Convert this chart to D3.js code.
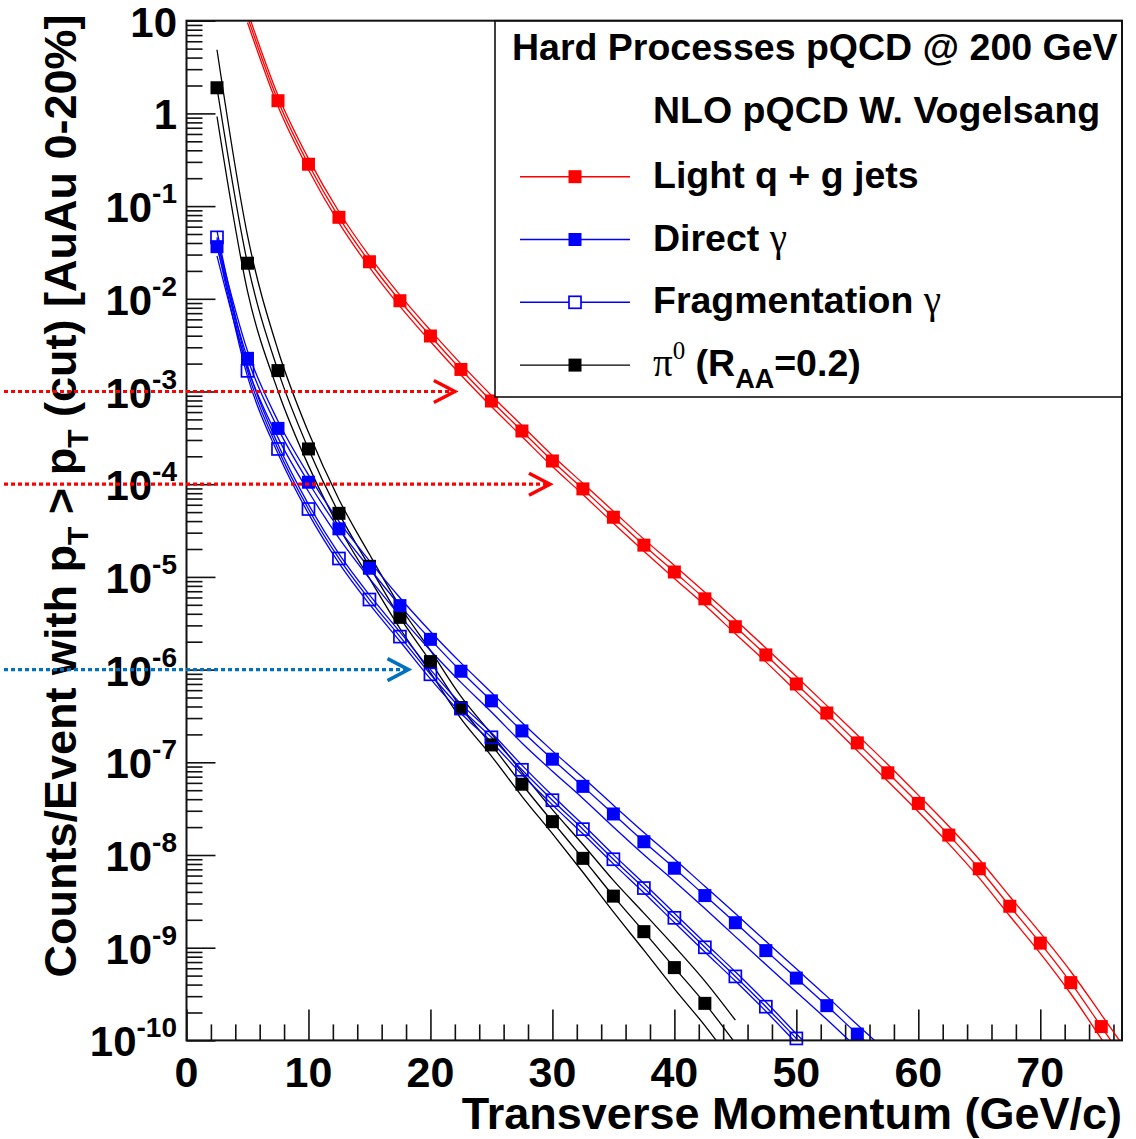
<!DOCTYPE html>
<html>
<head>
<meta charset="utf-8">
<script src="https://cdn.jsdelivr.net/npm/d3@7"></script>
<style>
  body { margin: 0; background: #fff; }
  svg { display: block; }
  text { font-family: "Liberation Sans", Arial, sans-serif; font-weight: bold; fill: #000; }
  .serif { font-family: "Liberation Serif", "Times New Roman", serif; font-weight: normal; }
</style>
</head>
<body>
<svg id="chart" width="1136" height="1139"></svg>
<script>
// ---- Yields per event with pT > pT(cut), AuAu 0-20%, NLO pQCD ----
// Light q + g jets
const jetPt = [5, 7.5, 10, 12.5, 15, 17.5, 20, 22.5, 25, 27.5, 30, 32.5, 35, 37.5, 40, 42.5, 45, 47.5, 50, 52.5, 55, 57.5, 60, 62.5, 65, 67.5, 70, 72.5, 75, 77.5];
const jetYield = [11, 1.37, 0.283, 0.0757, 0.0251, 0.00953, 0.00397, 1.73e-3, 7.9e-4, 3.75e-4, 1.78e-4, 8.9e-5, 4.4e-5, 2.2e-5, 1.13e-5, 5.8e-6, 2.9e-6, 1.44e-6, 7.0e-7, 3.4e-7, 1.62e-7, 7.7e-8, 3.6e-8, 1.64e-8, 7.1e-9, 2.8e-9, 1.12e-9, 4.2e-10, 1.41e-10, 4.7e-11];
// scale-uncertainty band half width, in decades
const jetSpread = [0.06, 0.06, 0.06, 0.06, 0.06, 0.06, 0.06, 0.06, 0.06, 0.06, 0.06, 0.06, 0.065, 0.065, 0.07, 0.07, 0.075, 0.075, 0.08, 0.08, 0.085, 0.09, 0.09, 0.095, 0.1, 0.105, 0.11, 0.12, 0.13, 0.14];

// Direct photons
const dirPt = [2.5, 5, 7.5, 10, 12.5, 15, 17.5, 20, 22.5, 25, 27.5, 30, 32.5, 35, 37.5, 40, 42.5, 45, 47.5, 50, 52.5, 55, 57.5];
const dirYield = [0.0365, 2.28e-3, 4.0e-4, 1.05e-4, 3.3e-5, 1.24e-5, 4.9e-6, 2.12e-6, 9.6e-7, 4.6e-7, 2.18e-7, 1.08e-7, 5.5e-8, 2.77e-8, 1.39e-8, 7.2e-9, 3.65e-9, 1.86e-9, 9.3e-10, 4.7e-10, 2.37e-10, 1.17e-10, 5.9e-11];
const dirSpreadUp = [0.08, 0.08, 0.08, 0.08, 0.08, 0.08, 0.085, 0.085, 0.09, 0.09, 0.09, 0.09, 0.095, 0.095, 0.1, 0.1, 0.1, 0.1, 0.1, 0.1, 0.1, 0.1, 0.1];
const dirSpreadDn = [0.1, 0.1, 0.1, 0.1, 0.1, 0.11, 0.11, 0.12, 0.12, 0.12, 0.13, 0.13, 0.13, 0.14, 0.14, 0.14, 0.14, 0.15, 0.15, 0.15, 0.15, 0.15, 0.15];

// Fragmentation photons
const fragPt = [2.5, 5, 7.5, 10, 12.5, 15, 17.5, 20, 22.5, 25, 27.5, 30, 32.5, 35, 37.5, 40, 42.5, 45, 47.5, 50, 52.5];
const fragYield = [0.046, 1.67e-3, 2.4e-4, 5.4e-5, 1.58e-5, 5.7e-6, 2.27e-6, 8.9e-7, 3.8e-7, 1.86e-7, 8.3e-8, 3.9e-8, 1.9e-8, 9.0e-9, 4.4e-9, 2.1e-9, 1.01e-9, 4.9e-10, 2.31e-10, 1.05e-10, 4.8e-11];
const fragSpread = [0.07, 0.06, 0.05, 0.05, 0.05, 0.05, 0.05, 0.05, 0.05, 0.05, 0.05, 0.05, 0.05, 0.05, 0.05, 0.05, 0.05, 0.05, 0.05, 0.05, 0.05];

// Neutral pions, R_AA = 0.2
const pionPt = [2.5, 5, 7.5, 10, 12.5, 15, 17.5, 20, 22.5, 25, 27.5, 30, 32.5, 35, 37.5, 40, 42.5, 45];
const pionYield = [1.89, 0.0242, 1.68e-3, 2.4e-4, 4.85e-5, 1.3e-5, 3.66e-6, 1.22e-6, 3.9e-7, 1.54e-7, 5.8e-8, 2.29e-8, 9.2e-9, 3.6e-9, 1.49e-9, 6.1e-10, 2.51e-10, 9.3e-11];
const pionSpreadUp = [0.41, 0.3, 0.22, 0.18, 0.15, 0.13, 0.12, 0.12, 0.12, 0.12, 0.13, 0.13, 0.15, 0.17, 0.2, 0.23, 0.24, 0.25];
const pionSpreadDn = [0.31, 0.3, 0.22, 0.18, 0.15, 0.13, 0.12, 0.12, 0.12, 0.12, 0.13, 0.13, 0.15, 0.17, 0.2, 0.23, 0.24, 0.25];

// Axis ticks
const xMajorTicks = [0, 10, 20, 30, 40, 50, 60, 70];
const yExponents = [1, 0, -1, -2, -3, -4, -5, -6, -7, -8, -9, -10];

// Trigger thresholds marked with arrows
const cutLevels = [1e-3, 1e-4, 1e-6];
const cutArrowTips = [22.0, 29.8, 18.2];
const cutColors = ["#ff0000", "#ff0000", "#0070c0"];

// Legend entries
const legendLabels = ["Light q + g jets", "Direct", "Fragmentation", "pi0"];

// ---------------------------------------------------------------
const svg = d3.select("#chart");
const frame = { left: 186.5, right: 1122, top: 20.7, bottom: 1040.4 };

const x = d3.scaleLinear().domain([0, 76.7]).range([frame.left, frame.right]);
const y = d3.scaleLog().domain([1e-10, 10]).range([frame.bottom, frame.top]);

svg.append("defs").append("clipPath").attr("id", "plotClip")
  .append("rect")
  .attr("x", frame.left).attr("y", frame.top)
  .attr("width", frame.right - frame.left).attr("height", frame.bottom - frame.top);

// ---- axes ----
const xMinor = d3.range(2, 77, 2).filter(v => v % 10 !== 0);
function tickAxis(axis, transform) {
  svg.append("g").attr("transform", transform)
    .call(axis)
    .call(g => g.select(".domain").remove())
    .call(g => g.selectAll("line").attr("stroke", "#111").attr("stroke-width", 1.6));
}
tickAxis(d3.axisBottom(x).tickValues(xMajorTicks).tickSize(-31).tickFormat(""), `translate(0,${frame.bottom})`);
tickAxis(d3.axisBottom(x).tickValues(xMinor).tickSize(-16).tickFormat(""), `translate(0,${frame.bottom})`);

const yMajor = yExponents.map(e => Math.pow(10, e));
const yMinor = [];
for (let e = -10; e < 1; e++) for (let m = 2; m <= 9; m++) yMinor.push(m * Math.pow(10, e));
tickAxis(d3.axisLeft(y).tickValues(yMajor).tickSize(-29).tickFormat(""), `translate(${frame.left},0)`);
tickAxis(d3.axisLeft(y).tickValues(yMinor).tickSize(-16).tickFormat(""), `translate(${frame.left},0)`);

// x tick labels
svg.append("g").selectAll("text").data(xMajorTicks).join("text")
  .attr("x", d => x(d)).attr("y", 1087)
  .attr("text-anchor", "middle").attr("font-size", 43)
  .text(d => d);

// y tick labels with exponents
const yLab = svg.append("g").selectAll("text").data(yExponents).join("text")
  .attr("x", 177).attr("y", e => y(Math.pow(10, e)) + 16)
  .attr("text-anchor", "end").attr("font-size", 42);
yLab.each(function (e) {
  const t = d3.select(this);
  if (e === 0) { t.text("1"); return; }
  t.append("tspan").text("10");
  if (e !== 1) t.append("tspan").attr("dy", -19).attr("font-size", 28).text(String(e));
});

// axis titles
svg.append("text").attr("x", frame.right).attr("y", 1129)
  .attr("text-anchor", "end").attr("font-size", 45)
  .text("Transverse Momentum (GeV/c)");

const yt = svg.append("text")
  .attr("transform", "translate(76,496) rotate(-90)")
  .attr("text-anchor", "middle").attr("font-size", 45);
yt.append("tspan").text("Counts/Event with p");
yt.append("tspan").attr("dy", 12).attr("font-size", 30).text("T");
yt.append("tspan").attr("dy", -12).text(" > p");
yt.append("tspan").attr("dy", 12).attr("font-size", 30).text("T");
yt.append("tspan").attr("dy", -12).text(" (cut) [AuAu 0-20%]");

// ---- curves ----
const plot = svg.append("g").attr("clip-path", "url(#plotClip)");
const line = d3.line().x(d => x(d[0])).y(d => y(d[1])).curve(d3.curveMonotoneX);

function drawSeries(pt, vals, up, dn, color) {
  const center = pt.map((p, i) => [p, vals[i]]);
  const hi = pt.map((p, i) => [p, vals[i] * Math.pow(10, up[i])]);
  const lo = pt.map((p, i) => [p, vals[i] / Math.pow(10, dn[i])]);
  [hi, center, lo].forEach(pts => {
    plot.append("path").attr("d", line(pts))
      .attr("fill", "none").attr("stroke", color).attr("stroke-width", 1.3);
  });
}
function drawMarkers(pt, vals, color, open) {
  const pts = pt.map((p, i) => [p, vals[i]]).filter(d => d[1] >= 1e-10 && d[1] <= 10);
  const s = open ? 12 : 13;
  svg.append("g").selectAll("rect").data(pts).join("rect")
    .attr("x", d => x(d[0]) - s / 2).attr("y", d => y(d[1]) - s / 2)
    .attr("width", s).attr("height", s)
    .attr("fill", open ? "none" : color)
    .attr("stroke", open ? color : "none").attr("stroke-width", 1.7);
}

drawSeries(jetPt, jetYield, jetSpread, jetSpread, "#ff0000");
drawSeries(pionPt, pionYield, pionSpreadUp, pionSpreadDn, "#000000");
drawSeries(dirPt, dirYield, dirSpreadUp, dirSpreadDn, "#0000ff");
drawSeries(fragPt, fragYield, fragSpread, fragSpread, "#0000ff");
drawMarkers(jetPt, jetYield, "#ff0000", false);
drawMarkers(pionPt, pionYield, "#000000", false);
drawMarkers(dirPt, dirYield, "#0000ff", false);
drawMarkers(fragPt, fragYield, "#0000ff", true);

// ---- legend ----
svg.append("rect").attr("x", 495).attr("y", frame.top)
  .attr("width", frame.right - 495).attr("height", 397 - frame.top)
  .attr("fill", "#fff").attr("stroke", "#111").attr("stroke-width", 1.6);

svg.append("text").attr("x", 512).attr("y", 60).attr("font-size", 37.5)
  .text("Hard Processes pQCD @ 200 GeV");
svg.append("text").attr("x", 653).attr("y", 123).attr("font-size", 37.5)
  .text("NLO pQCD W. Vogelsang");

const legendColors = ["#ff0000", "#0000ff", "#0000ff", "#000000"];
const legendOpen = [false, false, true, false];
legendLabels.forEach((lab, i) => {
  const ly = 176.7 + i * 62.8;
  svg.append("line").attr("x1", 520).attr("x2", 630).attr("y1", ly).attr("y2", ly)
    .attr("stroke", legendColors[i]).attr("stroke-width", 1.4);
  const s = legendOpen[i] ? 12 : 13;
  svg.append("rect").attr("x", 575 - s / 2).attr("y", ly - s / 2).attr("width", s).attr("height", s)
    .attr("fill", legendOpen[i] ? "#fff" : legendColors[i])
    .attr("stroke", legendOpen[i] ? legendColors[i] : "none").attr("stroke-width", 1.7);
  const t = svg.append("text").attr("x", 653).attr("y", ly + 11).attr("font-size", 37.5);
  if (i === 0) t.text(lab);
  else if (i === 1 || i === 2) {
    t.append("tspan").text(lab + " ");
    t.append("tspan").attr("class", "serif").attr("font-size", 39).text("γ");
  } else {
    t.append("tspan").attr("class", "serif").attr("font-size", 39).text("π");
    t.append("tspan").attr("class", "serif").attr("font-size", 25).attr("dy", -17).text("0");
    t.append("tspan").attr("dy", 17).text(" (R");
    t.append("tspan").attr("font-size", 27).attr("dy", 12).text("AA");
    t.append("tspan").attr("dy", -12).text("=0.2)");
  }
});

// ---- plot frame ----
svg.append("rect").attr("x", frame.left).attr("y", frame.top)
  .attr("width", frame.right - frame.left).attr("height", frame.bottom - frame.top)
  .attr("fill", "none").attr("stroke", "#111").attr("stroke-width", 2);

// ---- threshold arrows ----
cutLevels.forEach((lvl, i) => {
  const yy = y(lvl), tip = x(cutArrowTips[i]);
  svg.append("line").attr("x1", 4).attr("x2", tip - 3).attr("y1", yy).attr("y2", yy)
    .attr("stroke", cutColors[i]).attr("stroke-width", 3.2).attr("stroke-dasharray", "4,3");
  svg.append("polyline")
    .attr("points", `${tip - 21},${yy - 11} ${tip},${yy} ${tip - 21},${yy + 11}`)
    .attr("fill", "none").attr("stroke", cutColors[i]).attr("stroke-width", 3.5);
});
</script>
</body>
</html>
